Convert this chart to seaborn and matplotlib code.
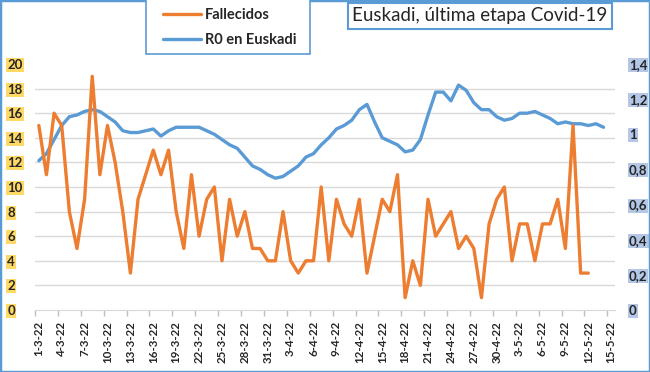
import numpy as np
import pandas as pd
import matplotlib
matplotlib.use("Agg")
import matplotlib.pyplot as plt
import seaborn as sns
from matplotlib.patches import Rectangle

# daily categories 1-3-22 .. 15-5-22
dias = pd.date_range("2022-03-01", "2022-05-15", freq="D")
etiquetas = [f"{d.day}-{d.month}-22" for d in dias]

fallecidos = [15, 11, 16, 15, 8, 5, 9, 19, 11, 15,
              12, 8, 3, 9, 11, 13, 11, 13, 8, 5,
              11, 6, 9, 10, 4, 9, 6, 8, 5, 5,
              4, 4, 8, 4, 3, 4, 4, 10, 4, 9,
              7, 6, 9, 3, 6, 9, 8, 11, 1, 4,
              2, 9, 6, 7, 8, 5, 6, 5, 1, 7,
              9, 10, 4, 7, 7, 4, 7, 7, 9, 5,
              15, 3, 3, np.nan, np.nan, np.nan]

r0 = [0.85, 0.89, 0.97, 1.05, 1.10, 1.11, 1.13, 1.14, 1.13, 1.10,
      1.07, 1.02, 1.01, 1.01, 1.02, 1.03, 0.99, 1.02, 1.04, 1.04,
      1.04, 1.04, 1.02, 1.00, 0.97, 0.94, 0.92, 0.87, 0.82, 0.80,
      0.77, 0.75, 0.76, 0.79, 0.82, 0.87, 0.89, 0.94, 0.98, 1.03,
      1.05, 1.08, 1.14, 1.17, 1.07, 0.98, 0.96, 0.94, 0.90, 0.91,
      0.97, 1.11, 1.24, 1.24, 1.19, 1.28, 1.25, 1.18, 1.14, 1.14,
      1.10, 1.08, 1.09, 1.12, 1.12, 1.13, 1.11, 1.09, 1.06, 1.07,
      1.06, 1.06, 1.05, 1.06, 1.04, np.nan]

izq_ticks = list(range(0, 21, 2))
der_ticks = [0, 0.2, 0.4, 0.6, 0.8, 1.0, 1.2, 1.4]
der_labels = ["0", "0,2", "0,4", "0,6", "0,8", "1", "1,2", "1,4"]

naranja = "#ED7D31"
azul = "#5B9BD5"

df = pd.DataFrame({"pos": np.arange(len(etiquetas)), "fallecidos": fallecidos, "r0": r0})

sns.set_style("white")
plt.rcParams['font.family'] = ['Lato', 'DejaVu Sans']

fig = plt.figure(figsize=(6.5, 3.72), dpi=100)
ax = fig.add_axes([35/650, 62/372, 580/650, 246/372])
ax2 = ax.twinx()

sns.lineplot(data=df, x="pos", y="fallecidos", ax=ax, color=naranja, lw=2.4, label="Fallecidos")
sns.lineplot(data=df, x="pos", y="r0", ax=ax2, color=azul, lw=2.4, label="R0 en Euskadi")

# orange on top of blue
ax.set_zorder(ax2.get_zorder() + 1)
ax.patch.set_visible(False)

h1, l1 = ax.get_legend_handles_labels()
h2, l2 = ax2.get_legend_handles_labels()
ax.get_legend().remove()
ax2.get_legend().remove()

ax.set_xlim(-0.5, len(etiquetas) - 0.5)
ax.set_ylim(0, 20)
ax2.set_ylim(0, 1.4)

# grid on the lower axes so it sits below both lines
ax2.set_yticks(np.linspace(0, 1.4, 11), minor=True)
ax2.grid(which="minor", axis="y", color="#D9D9D9", lw=1)
ax2.tick_params(which="minor", length=0)

ax.set_yticks(izq_ticks)
ax.set_yticklabels([str(v) for v in izq_ticks], fontweight="bold", fontsize=9.5, ha="left",
                   bbox=dict(facecolor="#FFD966", edgecolor="none", pad=0.8))
ax.tick_params(axis="y", length=0, pad=20)

ax2.set_yticks(der_ticks)
ax2.set_yticklabels(der_labels, fontweight="bold", fontsize=9.5,
                    bbox=dict(facecolor="#B4C7E7", edgecolor="none", pad=0.8))
ax2.tick_params(axis="y", which="major", length=0, pad=10)

ax.set_xticks(df["pos"][::3])
ax.set_xticklabels(etiquetas[::3], rotation=90, fontweight="bold", fontsize=8.3)
ax.set_xticks(np.arange(-0.5, len(etiquetas) - 1, 3), minor=True)
ax.tick_params(axis="x", which="major", length=0, pad=8)
ax.tick_params(axis="x", which="minor", length=4, color="#BFBFBF", width=1, bottom=True)

ax.set_xlabel("")
ax.set_ylabel("")
ax2.set_ylabel("")
for a in (ax, ax2):
    for s in a.spines.values():
        s.set_visible(False)
ax.spines["bottom"].set_visible(True)
ax.spines["bottom"].set_color("#D9D9D9")

# legend box drawn by hand, legend itself unframed
fig.patches.append(Rectangle((146/650, 1 - 54/372), 164/650, 60/372, transform=fig.transFigure,
                             facecolor="white", edgecolor=azul, lw=1.2, zorder=2))
fig.legend(h1 + h2, l1 + l2, loc="upper left", bbox_to_anchor=(163/650, 1 - 8/372),
           frameon=False, prop={"weight": "bold", "size": 10.5}, handlelength=2.6,
           borderpad=0, labelspacing=0.75, handletextpad=0.3, borderaxespad=0)

fig.text(480/650, 1 - 16/372, "Euskadi, última etapa Covid-19", ha="center", va="center",
         fontsize=13.5, bbox=dict(facecolor="white", edgecolor=azul, boxstyle="square,pad=0.25", lw=1.5))

fig.patches.append(Rectangle((0, 0), 1, 1, transform=fig.transFigure, fill=False,
                             edgecolor=azul, lw=2.5))

fig.savefig("out.png", dpi=100)
